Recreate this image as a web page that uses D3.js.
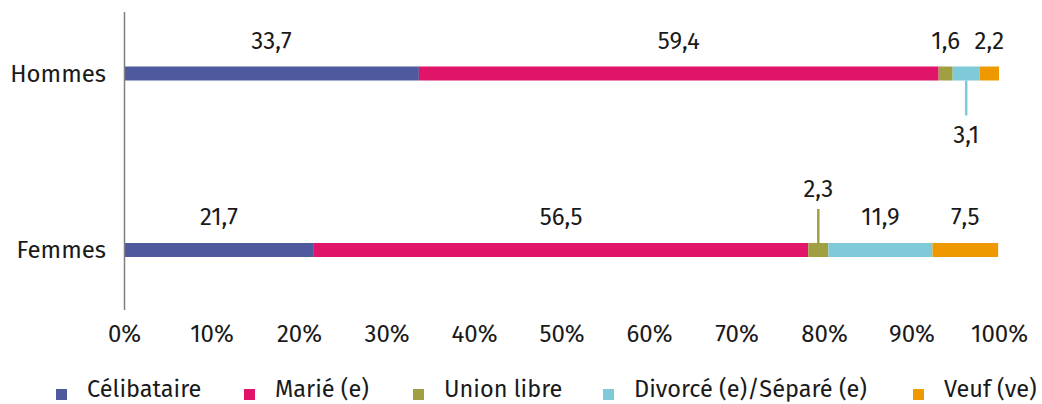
<!DOCTYPE html>
<html lang="fr">
<head>
<meta charset="UTF-8">
<title>État matrimonial</title>
<style>
  body { margin: 0; background: #fff; }
  svg text { font-family: "Fira Sans", "Noto Sans", "Open Sans", sans-serif; fill: #1a1a1a; font-size: 24px; }
</style>
</head>
<body>
<div id="chart"></div>
<script src="https://cdnjs.cloudflare.com/ajax/libs/d3/7.8.5/d3.min.js"></script>
<script>
var groups = ["Hommes", "Femmes"];
var series = ["Célibataire", "Marié (e)", "Union libre", "Divorcé (e)/Séparé (e)", "Veuf (ve)"];
var hommes = [33.7, 59.4, 1.6, 3.1, 2.2];
var femmes = [21.7, 56.5, 2.3, 11.9, 7.5];
var xTicks = [0, 10, 20, 30, 40, 50, 60, 70, 80, 90, 100];
var colors = ["#4f5a9e", "#e0156a", "#a0a043", "#7ecad8", "#ee9900"];

var width = 1042, height = 404;
var barH = 14;

var svg = d3.select("#chart").append("svg")
  .attr("width", width)
  .attr("height", height);

var x = d3.scaleLinear().domain([0, 100]).range([124, 999]);
var y = d3.scalePoint().domain(groups).range([73.5, 250]);

var rows = [hommes, femmes];

// stack the values by hand
var stacked = [];
groups.forEach(function (g, gi) {
  var acc = 0;
  rows[gi].forEach(function (v, si) {
    stacked.push({ group: g, serie: si, value: v, x0: acc, x1: acc + v });
    acc += v;
  });
});

svg.selectAll(".seg")
  .data(stacked)
  .enter().append("rect")
  .attr("class", "seg")
  .attr("x", function (d) { return x(d.x0); })
  .attr("y", function (d) { return y(d.group) - barH / 2; })
  .attr("width", function (d) { return x(d.x1) - x(d.x0); })
  .attr("height", barH)
  .style("fill", function (d) { return colors[d.serie]; });

// labels: a few small ones get pulled out with a leader line
function labelPlace(d) {
  if (d.group === "Hommes" && d.serie === 3) return "below";
  if (d.group === "Femmes" && d.serie === 2) return "far";
  return "above";
}

svg.selectAll(".lead")
  .data(stacked.filter(function (d) { return labelPlace(d) !== "above"; }))
  .enter().append("line")
  .attr("class", "lead")
  .attr("x1", function (d) { return x((d.x0 + d.x1) / 2); })
  .attr("x2", function (d) { return x((d.x0 + d.x1) / 2); })
  .attr("y1", function (d) { return labelPlace(d) === "below" ? y(d.group) + barH / 2 : y(d.group) - barH / 2; })
  .attr("y2", function (d) { return labelPlace(d) === "below" ? y(d.group) + barH / 2 + 35 : y(d.group) - barH / 2 - 34; })
  .style("stroke", function (d) { return colors[d.serie]; })
  .style("stroke-width", 2.5);

svg.selectAll(".val")
  .data(stacked)
  .enter().append("text")
  .attr("class", "val")
  .attr("x", function (d) { return x((d.x0 + d.x1) / 2); })
  .attr("y", function (d) {
    var p = labelPlace(d);
    if (p === "below") return y(d.group) + barH / 2 + 62;
    if (p === "far") return y(d.group) - barH / 2 - 46;
    return y(d.group) - barH / 2 - 18;
  })
  .attr("text-anchor", "middle")
  .text(function (d) { return d3.format(".1f")(d.value).replace(".", ","); });

// x axis (labels only)
var xAxis = d3.axisBottom(x).tickValues(xTicks).tickSize(0).tickPadding(0)
  .tickFormat(function (d) { return d + "%"; });
var gx = svg.append("g").attr("transform", "translate(0,325)").call(xAxis);
gx.attr("font-size", null).attr("font-family", null);
gx.select(".domain").remove();
gx.selectAll("text").attr("dy", "0.71em");

// y axis line + category labels
var yAxis = d3.axisLeft(y).tickSize(0).tickPadding(18);
var gy = svg.append("g").attr("transform", "translate(124,0)").call(yAxis);
gy.attr("font-size", null).attr("font-family", null);
gy.select(".domain").attr("d", "M0.5,12V310").style("stroke", "#7f7f7f").style("stroke-width", 1.5);

// legend
var legendX = [56, 244, 413, 603, 913];
var legend = svg.selectAll(".legend")
  .data(series)
  .enter().append("g")
  .attr("class", "legend")
  .attr("transform", function (d, i) { return "translate(" + legendX[i] + ",389)"; });

legend.append("rect")
  .attr("width", 11)
  .attr("height", 11)
  .style("fill", function (d, i) { return colors[i]; });

legend.append("text")
  .attr("x", 31)
  .attr("y", 8)
  .style("font-size", "23.5px")
  .text(function (d) { return d; });
</script>
</body>
</html>
